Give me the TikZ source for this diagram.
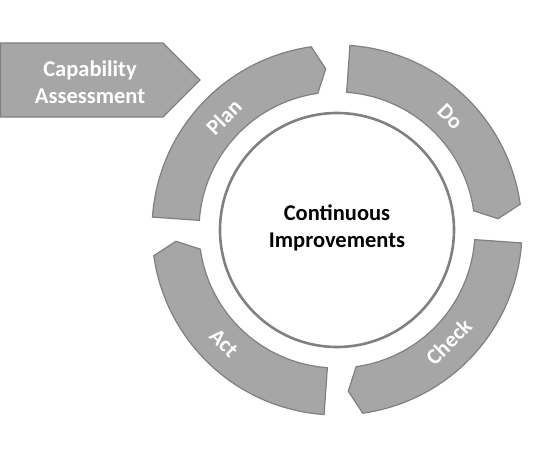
\documentclass[tikz,border=0pt]{standalone}
\usepackage{fontspec}
\setmainfont{Carlito}
\definecolor{segfill}{RGB}{166,166,166}
\definecolor{segline}{RGB}{128,128,128}
\begin{document}
\begin{tikzpicture}[x=1pt,y=1pt,
  seg/.style={fill=segfill,draw=segline,line width=1.2pt,line join=miter},
  seglabel/.style={text=white,font=\bfseries\fontsize{22}{26}\selectfont,inner sep=0pt},
  hub/.style={circle,draw=segline,line width=2.6pt,fill=white,minimum size=234pt,inner sep=0pt},
  hubtext/.style={align=center,font=\bfseries\fontsize{22.5}{27.6}\selectfont,text=black},
  entry/.style={text=white,align=center,font=\bfseries\fontsize{22.5}{27.6}\selectfont}]
\useasboundingbox (0,0) rectangle (560,451);
\fill[white] (0,0) rectangle (560,451);
\coordinate (c) at (337,221);
\def\Ri{138}\def\Ro{185}\def\Rm{161.5}
\begin{scope}[shift={(c)}]
\foreach \A in {180,90,0,-90}{
  \pgfmathsetmacro{\s}{\A-4}
  \pgfmathsetmacro{\e}{\A-82}
  \pgfmathsetmacro{\t}{\A-86}
  \draw[seg] (\s:\Ro) arc[start angle=\s,end angle=\e,radius=\Ro]
    -- (\t:\Rm) -- (\e:\Ri) arc[start angle=\e,end angle=\s,radius=\Ri] -- cycle;
}
\node[seglabel,rotate=45] (plan) at (135:160) {Plan};
\node[seglabel,rotate=-45] (do) at (45:160) {Do};
\node[seglabel,rotate=45] (check) at (-45:158) {Check};
\node[seglabel,rotate=-45] (act) at (225:160) {Act};
\end{scope}
\node[hub] (hubc) at (c) {};
\node[hubtext] (ci) at (337,223) {Continuous\\Improvements};
\draw[seg] (0.5,408) -- (163,408) -- (200,371) -- (163,334) -- (0.5,334) -- cycle;
\node[entry] (cap) at (90,369) {Capability\\Assessment};
\end{tikzpicture}
\end{document}
